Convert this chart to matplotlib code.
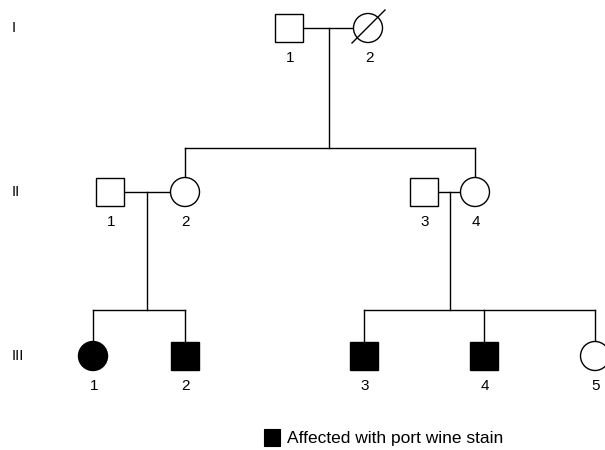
import matplotlib
matplotlib.use("Agg")
import matplotlib.pyplot as plt
from matplotlib.patches import Rectangle, Circle

plt.rcParams['font.family'] = ['Liberation Sans', 'DejaVu Sans']

# ---- data: pedigree ----
generations = ["I", "II", "III"]
ids = ["I-1", "I-2", "II-1", "II-2", "II-3", "II-4",
       "III-1", "III-2", "III-3", "III-4", "III-5"]
labels = ["1", "2", "1", "2", "3", "4", "1", "2", "3", "4", "5"]
sexes = ["M", "F", "M", "F", "M", "F", "F", "M", "M", "M", "F"]
affected = [False, False, False, False, False, False,
            True, True, True, True, False]
deceased = [True if i == "I-2" else False for i in ids]
couples = [("I-1", "I-2"), ("II-1", "II-2"), ("II-3", "II-4")]
children = {("I-1", "I-2"): ["II-2", "II-4"],
            ("II-1", "II-2"): ["III-1", "III-2"],
            ("II-3", "II-4"): ["III-3", "III-4", "III-5"]}
legend_text = "Affected with port wine stain"

# ---- layout (pixel coords) ----
xpos = {"I-1": 289, "I-2": 368, "II-1": 110, "II-2": 185, "II-3": 424,
        "II-4": 475, "III-1": 93, "III-2": 185, "III-3": 364,
        "III-4": 484, "III-5": 595}
drop_x = {("I-1", "I-2"): 329, ("II-1", "II-2"): 147, ("II-3", "II-4"): 450}
gen_y = [28, 192, 356]
sibline_y = [None, 148, 310]
half = 14
lw = 1.0

fig = plt.figure(figsize=(6.05, 4.5), dpi=100)
ax = fig.add_axes([0, 0, 1, 1])
ax.set_xlim(0, 605)
ax.set_ylim(450, 0)
ax.axis("off")

def gen_of(i):
    return len(i.split("-")[0]) - 1

for g, name in enumerate(generations):
    ax.text(12, gen_y[g], name, ha="left", va="center", fontsize=10.5)

for i, lab, sx, aff, dec in zip(ids, labels, sexes, affected, deceased):
    x = xpos[i]
    y = gen_y[gen_of(i)]
    fc = "black" if aff else "white"
    if sx == "M":
        ax.add_patch(Rectangle((x - half, y - half), 2 * half, 2 * half,
                               fc=fc, ec="black", lw=lw, zorder=3))
    else:
        ax.add_patch(Circle((x, y), half + 0.5, fc=fc, ec="black",
                            lw=lw, zorder=3))
    if dec:
        ax.plot([x - 16, x + 17], [y + 15, y - 18], color="black",
                lw=lw, zorder=4)
    ax.text(x + 1, y + 30, lab, ha="center", va="center", fontsize=11)

for (a, b) in couples:
    g = gen_of(a)
    y = gen_y[g]
    xa, xb = xpos[a], xpos[b]
    ax.plot([xa + half, xb - half], [y, y], color="black", lw=lw, zorder=2)
    kids = children[(a, b)]
    mid = drop_x[(a, b)]
    sy = sibline_y[g + 1]
    ax.plot([mid, mid], [y, sy], color="black", lw=lw, zorder=2)
    kx = [xpos[k] for k in kids]
    ax.plot([min(kx), max(kx)], [sy, sy], color="black", lw=lw, zorder=2)
    for k in kids:
        ax.plot([xpos[k], xpos[k]], [sy, gen_y[g + 1] - half],
                color="black", lw=lw, zorder=2)

# legend
ax.add_patch(Rectangle((264, 429), 16, 17, fc="black", ec="black", lw=0.8))
ax.text(287, 438, legend_text, ha="left", va="center", fontsize=12.5)

fig.savefig("out.png", dpi=100)
